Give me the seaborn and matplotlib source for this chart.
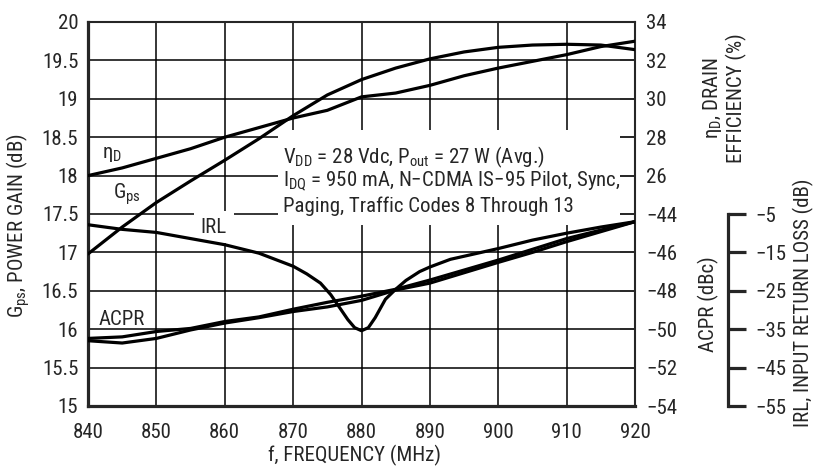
import numpy as np
import pandas as pd
import seaborn as sns
import matplotlib.pyplot as plt
from matplotlib import font_manager
from matplotlib.patches import Rectangle

# frequency grid (MHz)
freq = [840, 845, 850, 855, 860, 865, 870, 875, 880, 885, 890, 895, 900, 905, 910, 915, 920]

# power gain Gps (dB)
gps = [16.98, 17.33, 17.65, 17.93, 18.20, 18.48, 18.78, 19.05, 19.25, 19.40,
       19.52, 19.61, 19.67, 19.70, 19.71, 19.70, 19.64]

# drain efficiency (%)
eff = [26.0, 26.4, 26.9, 27.4, 28.0, 28.5, 29.0, 29.4, 30.1, 30.3,
       30.7, 31.2, 31.6, 31.95, 32.3, 32.72, 33.0]

# ACPR (dBc), two nearly overlapping traces
acpr_a = [-50.48, -50.40, -50.12, -49.96, -49.60, -49.36, -48.96, -48.60, -48.28, -47.92,
          -47.44, -46.92, -46.40, -45.84, -45.28, -44.84, -44.40]
acpr_b = [-50.60, -50.72, -50.48, -50.04, -49.68, -49.40, -49.08, -48.84, -48.50, -47.96,
          -47.60, -47.06, -46.52, -46.00, -45.44, -44.92, -44.40]

# input return loss (dB)
irl_freq = [840, 845, 850, 855, 860, 865, 870, 872, 874, 875.5, 877, 878, 879, 880, 881,
            882, 883.5, 885, 886.5, 888.5, 890, 893, 896, 900, 905, 910, 915, 920]
irl = [-7.8, -9.0, -9.8, -11.4, -13.0, -15.2, -18.6, -20.6, -23.0, -26.0, -29.9, -32.5, -34.6,
       -35.4, -34.6, -32.0, -27.2, -24.6, -22.3, -20.0, -18.8, -16.8, -15.6, -14.0, -11.8,
       -10.0, -8.4, -7.0]

sns.set_style("ticks")

names = {f.name for f in font_manager.fontManager.ttflist}
font = "DejaVu Sans"
for cand in ["Liberation Sans Narrow", "Roboto Condensed", "Open Sans Condensed"]:
    if cand in names:
        font = cand
        break
plt.rcParams["font.family"] = [font, "DejaVu Sans"]
if font == "DejaVu Sans":
    plt.rcParams["font.stretch"] = "condensed"
plt.rcParams["mathtext.fontset"] = "custom"
plt.rcParams["mathtext.rm"] = font
plt.rcParams["mathtext.it"] = font
plt.rcParams["axes.unicode_minus"] = True

FS = 15
LW = 2.3

fig = plt.figure(figsize=(8.15, 4.73), dpi=100)
ax = fig.add_axes([88 / 815, 1 - 406 / 473, 547 / 815, 384 / 473])
ax_eff = ax.twinx()
ax_acpr = ax.twinx()
ax_irl = ax.twinx()

df = pd.DataFrame({"freq": freq, "gps": gps, "eff": eff, "acpr_a": acpr_a, "acpr_b": acpr_b})
df_irl = pd.DataFrame({"freq": irl_freq, "irl": irl})

sns.lineplot(data=df, x="freq", y="gps", ax=ax, color="black", lw=LW, zorder=3, legend=False)
sns.lineplot(data=df, x="freq", y="eff", ax=ax_eff, color="black", lw=LW, legend=False)
sns.lineplot(data=df, x="freq", y="acpr_a", ax=ax_acpr, color="black", lw=LW, legend=False)
sns.lineplot(data=df, x="freq", y="acpr_b", ax=ax_acpr, color="black", lw=LW, legend=False)
sns.lineplot(data=df_irl, x="freq", y="irl", ax=ax_irl, color="black", lw=LW, legend=False)

# main axis
ax.set_xlim(840, 920)
ax.set_ylim(15, 20)
ax.set_xticks(range(840, 921, 10))
ax.set_yticks(np.arange(15, 20.01, 0.5))
ax.set_yticklabels([f"{v:g}" for v in np.arange(15, 20.01, 0.5)])
ax.grid(True, color="black", lw=1.1)
ax.set_axisbelow(True)
ax.tick_params(axis="both", length=0, labelsize=FS)
ax.tick_params(axis="x", pad=12)
ax.tick_params(axis="y", pad=7)
ax.set_xlabel("")
ax.set_ylabel("")
for s in ["left", "bottom"]:
    ax.spines[s].set_linewidth(2.3)
for s in ["top", "right"]:
    ax.spines[s].set_linewidth(1.5)

# white panel behind the conditions text
ax.add_patch(Rectangle((867.8, 17.357), 50.0, 1.237, facecolor="white", edgecolor="none", zorder=1))

# efficiency scale (upper right)
ax_eff.set_ylim(14, 34)
ax_eff.set_yticks([26, 28, 30, 32, 34])
ax_eff.set_ylabel("")
ax_eff.tick_params(axis="y", direction="in", length=11, width=1.1, labelsize=FS, pad=8)

# ACPR scale (lower right)
ax_acpr.set_ylim(-54, -34)
ax_acpr.set_yticks([-54, -52, -50, -48, -46, -44])
ax_acpr.set_ylabel("")
ax_acpr.tick_params(axis="y", direction="in", length=11, width=1.1, labelsize=FS, pad=8)

# IRL scale (offset)
ax_irl.set_ylim(-55, 45)
ax_irl.set_yticks([-55, -45, -35, -25, -15, -5])
ax_irl.set_ylabel("")
ax_irl.spines["right"].set_position(("axes", 1 + 93 / 547))
ax_irl.spines["right"].set_bounds(-55, -5)
ax_irl.spines["right"].set_linewidth(2.3)
ax_irl.tick_params(axis="y", direction="out", length=13, width=2.3, labelsize=FS, pad=7)

for a in [ax_eff, ax_acpr, ax_irl]:
    a.set_xlim(840, 920)
    a.set_xlabel("")
    for s in ["left", "top", "bottom"]:
        a.spines[s].set_visible(False)
    if a is not ax_irl:
        a.spines["right"].set_visible(False)

# curve labels
ax.text(843.5, 18.27, r"$\mathregular{η_D}$", fontsize=FS, ha="center", va="center")
ax.text(845.7, 17.76, r"$\mathregular{G_{ps}}$", fontsize=FS, ha="center", va="center")
ax.text(858.4, 17.33, "IRL", fontsize=FS, ha="center", va="center", zorder=2,
        bbox=dict(facecolor="white", edgecolor="none", pad=5))
ax.text(845.0, 16.12, "ACPR", fontsize=FS, ha="center", va="center")

# conditions text
ax.text(868.5, 18.24, r"$\mathregular{V_{DD}}$ = 28 Vdc, $\mathregular{P_{out}}$ = 27 W (Avg.)",
        fontsize=FS, ha="left", va="center", zorder=2)
ax.text(868.5, 17.92, "$\\mathregular{I_{DQ}}$ = 950 mA, N\u2212CDMA IS\u221295 Pilot, Sync,",
        fontsize=FS, ha="left", va="center", zorder=2)
ax.text(868.5, 17.60, "Paging, Traffic Codes 8 Through 13",
        fontsize=FS, ha="left", va="center", zorder=2)

# axis titles
fig.text(18 / 815, 1 - 226 / 473, r"$\mathregular{G_{ps}}$, POWER GAIN (dB)", fontsize=FS,
         ha="center", va="center", rotation=90)
fig.text(355 / 815, 1 - 455 / 473, "f, FREQUENCY (MHz)", fontsize=FS, ha="center", va="center")
fig.text(724 / 815, 1 - 98 / 473, "$\\mathregular{η_D}$, DRAIN\nEFFICIENCY (%)", fontsize=FS,
         ha="center", va="center", rotation=90, multialignment="center", linespacing=1.15)
fig.text(708 / 815, 1 - 304 / 473, "ACPR (dBc)", fontsize=FS, ha="center", va="center", rotation=90)
fig.text(803 / 815, 1 - 303 / 473, "IRL, INPUT RETURN LOSS (dB)", fontsize=FS,
         ha="center", va="center", rotation=90)

plt.savefig("out.png", dpi=100)
